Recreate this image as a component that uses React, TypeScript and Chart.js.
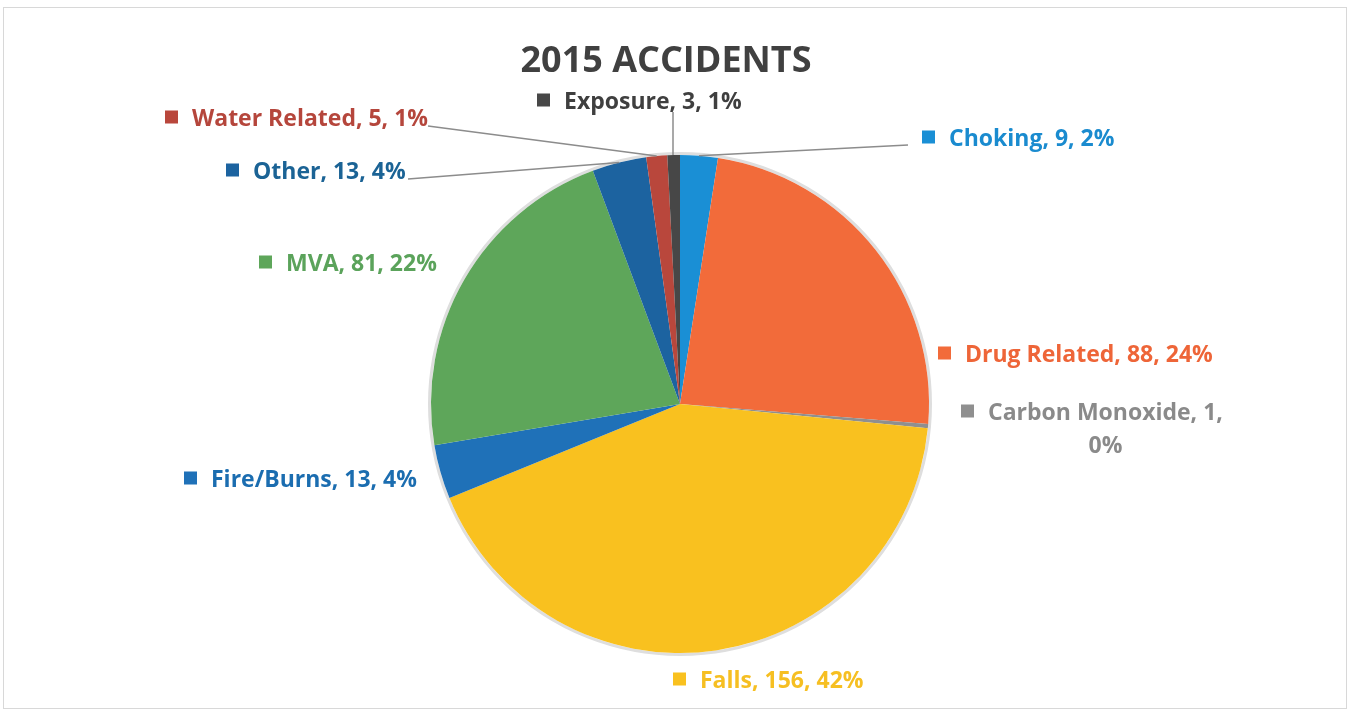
import React, { useEffect, useRef } from "react";
import { Chart, registerables } from "chart.js";

Chart.register(...registerables);

const chartTitle = "2015 ACCIDENTS";
const categories = [
  "Choking",
  "Drug Related",
  "Carbon Monoxide",
  "Falls",
  "Fire/Burns",
  "MVA",
  "Other",
  "Water Related",
  "Exposure",
];
const counts = [9, 88, 1, 156, 13, 81, 13, 5, 3];
const sliceColors = [
  "#1a8fd5",
  "#f26b3a",
  "#8f8f8f",
  "#f9c11f",
  "#1f71b8",
  "#5ea65a",
  "#1c63a0",
  "#b9473c",
  "#474747",
];
const textColors = [
  "#1a8bcf",
  "#ee6538",
  "#8a8a8a",
  "#f6bf22",
  "#1b6db0",
  "#5ba35b",
  "#1b6395",
  "#b5463c",
  "#3f3f3f",
];

// Layout of the data labels (marker left x, text middle y, optional leader start, wrapped 2nd line)
type LabelLayout = {
  x: number;
  y: number;
  lead?: [number, number];
  vertical?: boolean;
  wrap?: boolean;
};
const labelLayout: LabelLayout[] = [
  { x: 922, y: 137, lead: [908, 145] },
  { x: 938, y: 353 },
  { x: 961, y: 411, wrap: true },
  { x: 673, y: 679 },
  { x: 184, y: 478 },
  { x: 259, y: 262 },
  { x: 226, y: 170, lead: [408, 179] },
  { x: 165, y: 117, lead: [428, 126] },
  { x: 537, y: 100, lead: [673, 112], vertical: true },
];

const FONT = "bold 23px 'Open Sans', Lato, sans-serif";

const labelsPlugin = {
  id: "accLabels",
  beforeDatasetsDraw(chart: any) {
    const meta = chart.getDatasetMeta(0);
    const a = meta.data[0];
    if (!a) return;
    const ctx = chart.ctx;
    ctx.save();
    ctx.beginPath();
    ctx.arc(a.x, a.y, a.outerRadius + 1.5, 0, Math.PI * 2);
    ctx.strokeStyle = "#dedede";
    ctx.lineWidth = 3;
    ctx.stroke();
    ctx.restore();
  },
  afterDraw(chart: any) {
    const ctx = chart.ctx;
    const meta = chart.getDatasetMeta(0);
    const total = counts.reduce((s, v) => s + v, 0);
    ctx.save();
    // frame
    ctx.strokeStyle = "#d8d8d8";
    ctx.lineWidth = 1;
    ctx.strokeRect(3.5, 7.5, 1343, 701);
    // title
    ctx.font = "bold 36px 'Open Sans', Lato, sans-serif";
    ctx.fillStyle = "#404040";
    ctx.textAlign = "center";
    ctx.textBaseline = "alphabetic";
    ctx.fillText(chartTitle, 666, 72);

    ctx.font = FONT;
    ctx.textBaseline = "middle";
    categories.forEach((name, i) => {
      const L = labelLayout[i];
      const arc = meta.data[i];
      const pct = Math.round((counts[i] / total) * 100);
      // leader line
      if (L.lead && arc) {
        const mid = (arc.startAngle + arc.endAngle) / 2;
        const ex = arc.x + Math.cos(mid) * arc.outerRadius;
        const ey = arc.y + Math.sin(mid) * arc.outerRadius;
        ctx.beginPath();
        ctx.strokeStyle = "#8c8c8c";
        ctx.lineWidth = 1.5;
        ctx.moveTo(L.lead[0], L.lead[1]);
        if (L.vertical) ctx.lineTo(L.lead[0], ey);
        else ctx.lineTo(ex, ey);
        ctx.stroke();
      }
      ctx.fillStyle = sliceColors[i];
      ctx.fillRect(L.x, L.y - 6.5, 13, 13);
      ctx.fillStyle = textColors[i];
      ctx.textAlign = "left";
      const ty = L.y + 2;
      if (L.wrap) {
        const line1 = `${name}, ${counts[i]},`;
        ctx.fillText(line1, L.x + 27, ty);
        const w = ctx.measureText(line1).width;
        ctx.textAlign = "center";
        ctx.fillText(`${pct}%`, L.x + 27 + w / 2, ty + 33);
      } else {
        ctx.fillText(`${name}, ${counts[i]}, ${pct}%`, L.x + 27, ty);
      }
    });
    ctx.restore();
  },
};

export default function App() {
  const ref = useRef<HTMLCanvasElement | null>(null);
  useEffect(() => {
    if (!ref.current) return;
    const chart = new Chart(ref.current, {
      type: "pie",
      data: {
        labels: categories,
        datasets: [
          {
            data: counts,
            backgroundColor: sliceColors,
            borderWidth: 0,
          },
        ],
      },
      options: {
        responsive: false,
        animation: false,
        layout: { padding: { top: 155, bottom: 62, left: 300, right: 291 } },
        plugins: {
          legend: { display: false },
          title: { display: false },
          tooltip: { enabled: false },
        },
      },
      plugins: [labelsPlugin],
    });
    return () => chart.destroy();
  }, []);
  return (
    <div style={{ position: "absolute", left: 0, top: 0, width: 1351, height: 715, background: "#ffffff" }}>
      <canvas ref={ref} width={1351} height={715} />
    </div>
  );
}
